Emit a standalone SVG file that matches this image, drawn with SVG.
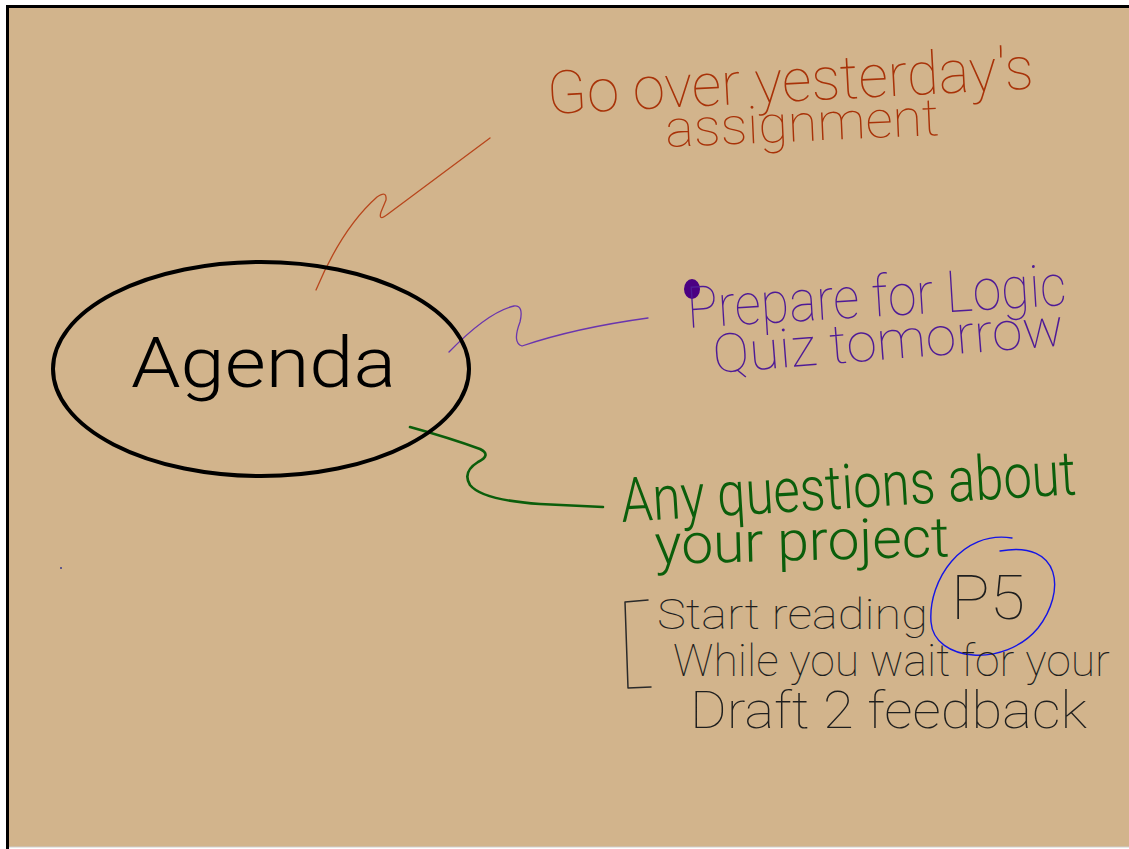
<svg xmlns="http://www.w3.org/2000/svg" width="1129" height="849" viewBox="0 0 1129 849">
<style>
.hw{font-family:Roboto,"Open Sans","Liberation Sans",sans-serif;}
.thin{font-weight:100;}
.light{font-weight:300;}
.red{fill:#A83208;}
.pur{fill:#4E1A96;}
.grn{fill:#0B5E0B;}
.blk{fill:#1E1E1E;}
.conn{fill:none;stroke-linecap:round;stroke-linejoin:round;}
</style>
<rect width="1129" height="849" fill="#FFFFFF"/>
<rect x="7" y="7" width="1122" height="840" fill="#D2B48C"/>
<path d="M7.5,849 L7.5,6.5 L1129,6.5" fill="none" stroke="#000" stroke-width="3"/>
<line x1="9" y1="847" x2="1129" y2="847" stroke="#CFCFCF" stroke-width="1"/>

<g id="connectors">
  <path class="conn" d="M490,138 L388,214 Q378,222 381,212 L386,200 Q387,190 377,197 Q342,228 316,290" stroke="#B8461C" stroke-width="1.3"/>
  <path class="conn" d="M449,352 Q488,312 514,306 Q524,305 520,322 Q512,343 522,346 Q575,328 648,318" stroke="#6A35AE" stroke-width="1.3"/>
  <path class="conn" d="M410,427 Q450,438 480,449 Q492,455 478,462 Q462,472 470,485 Q482,500 540,504 L603,507" stroke="#0B5E0B" stroke-width="2.6"/>
</g>

<g id="agenda">
  <ellipse cx="261" cy="369" rx="208" ry="107" fill="none" stroke="#000" stroke-width="4"/>
  <text class="hw light" x="131" y="387" font-size="70" textLength="265" lengthAdjust="spacingAndGlyphs" fill="#000">Agenda</text>
</g>

<g id="item-yesterday">
  <text class="hw thin red" x="548" y="114" font-size="60" textLength="487" lengthAdjust="spacingAndGlyphs" transform="rotate(-3 548 114)">Go over yesterday's</text>
  <text class="hw thin red" x="666" y="147" font-size="52" textLength="274" lengthAdjust="spacingAndGlyphs" transform="rotate(-2.5 666 147)">assignment</text>
</g>

<g id="item-logic">
  <ellipse cx="692" cy="289" rx="8" ry="10" fill="#4B0082"/>
  <text class="hw thin pur" x="688" y="328" font-size="58" textLength="380" lengthAdjust="spacingAndGlyphs" transform="rotate(-3.5 688 328)">Prepare for Logic</text>
  <text class="hw thin pur" x="714" y="373" font-size="54" textLength="352" lengthAdjust="spacingAndGlyphs" transform="rotate(-4.5 714 373)">Quiz tomorrow</text>
</g>

<g id="item-project">
  <text class="hw light grn" x="622" y="522" font-size="62" textLength="456" lengthAdjust="spacingAndGlyphs" transform="rotate(-3.5 622 522)">Any questions about</text>
  <text class="hw light grn" x="655" y="564" font-size="56" textLength="295" lengthAdjust="spacingAndGlyphs" transform="rotate(-1.5 655 564)">your project</text>
</g>

<g id="item-reading">
  <path class="conn" d="M648,600 L625,602 L628,688 L651,687" stroke="#2A2A2A" stroke-width="1.5"/>
  <text class="hw thin blk" x="657" y="629" font-size="43" textLength="271" lengthAdjust="spacingAndGlyphs">Start reading</text>
  <text class="hw thin blk" x="951" y="619" font-size="62" textLength="74" lengthAdjust="spacingAndGlyphs">P5</text>
  <path class="conn" d="M1012,538 C962,530 928,580 931,622 C934,662 1005,668 1038,628 C1066,592 1062,540 1000,551" stroke="#1414E6" stroke-width="1.4"/>
  <text class="hw thin blk" x="673" y="676" font-size="45" textLength="437" lengthAdjust="spacingAndGlyphs">While you wait for your</text>
  <text class="hw thin blk" x="690" y="728" font-size="52" textLength="397" lengthAdjust="spacingAndGlyphs">Draft 2 feedback</text>
</g>

<circle cx="61" cy="568" r="1" fill="#3A3A8A"/>
</svg>
